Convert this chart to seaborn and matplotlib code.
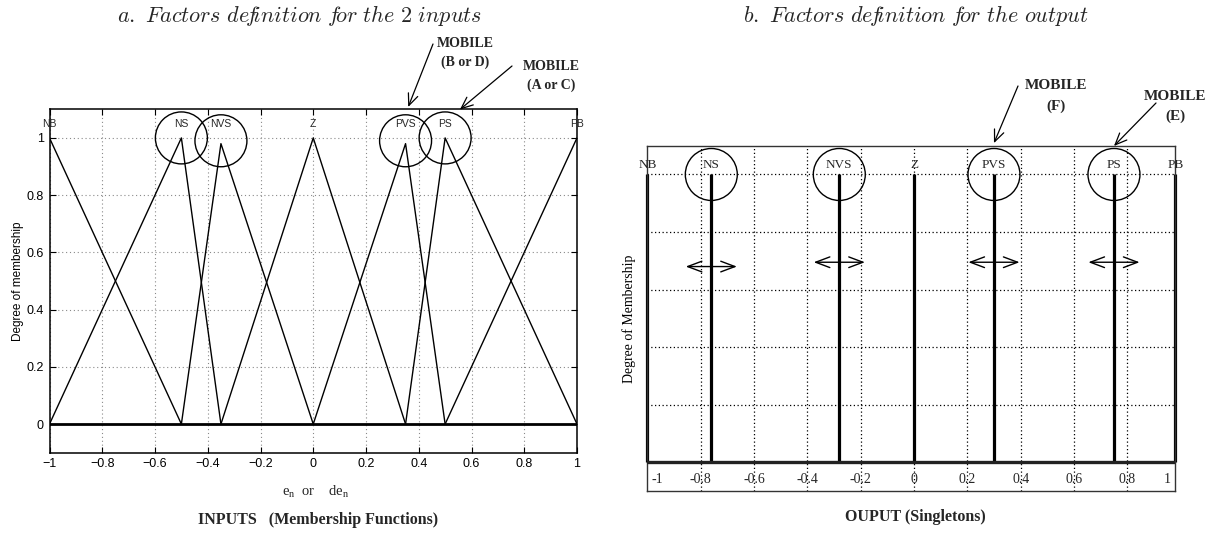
import numpy as np
import pandas as pd
import matplotlib
matplotlib.use("Agg")
import matplotlib.pyplot as plt
import seaborn as sns

# ---------------- data ----------------
# a. input membership functions (triangles)
mf_names = ["NB", "NS", "NVS", "Z", "PVS", "PS", "PB"]
nb_x, nb_y = [-1.0, -0.5], [1.0, 0.0]
ns_x, ns_y = [-1.0, -0.5, -0.35], [0.0, 1.0, 0.0]
nvs_x, nvs_y = [-0.5, -0.35, 0.0], [0.0, 0.98, 0.0]
z_x, z_y = [-0.35, 0.0, 0.35], [0.0, 1.0, 0.0]
pvs_x, pvs_y = [0.0, 0.35, 0.5], [0.0, 0.98, 0.0]
ps_x, ps_y = [0.35, 0.5, 1.0], [0.0, 1.0, 0.0]
pb_x, pb_y = [0.5, 1.0], [0.0, 1.0]
mf_label_x = [-1.0, -0.5, -0.35, 0.0, 0.35, 0.5, 1.0]
mobile_in = ["NS", "NVS", "PVS", "PS"]
mobile_in_x = [-0.5, -0.35, 0.35, 0.5]
mobile_in_y = [1.0, 0.99, 0.99, 1.0]
left_xticks = [-1, -0.8, -0.6, -0.4, -0.2, 0, 0.2, 0.4, 0.6, 0.8, 1]
left_xticklabels = ["\u22121", "\u22120.8", "\u22120.6", "\u22120.4", "\u22120.2", "0",
                    "0.2", "0.4", "0.6", "0.8", "1"]
left_yticks = [0, 0.2, 0.4, 0.6, 0.8, 1]
left_yticklabels = ["0", "0.2", "0.4", "0.6", "0.8", "1"]

# b. output singletons
out_names = ["NB", "NS", "NVS", "Z", "PVS", "PS", "PB"]
out_values = [-1.0, -0.76, -0.28, 0.0, 0.30, 0.75, 0.98]
out_height = [1.0, 1.0, 1.0, 1.0, 1.0, 1.0, 1.0]
mobile_out = ["NS", "NVS", "PVS", "PS"]
mobile_out_x = [-0.76, -0.28, 0.30, 0.75]
mobile_out_arrow_y = [0.68, 0.695, 0.695, 0.695]
right_ticks = [-1, -0.8, -0.6, -0.4, -0.2, 0, 0.2, 0.4, 0.6, 0.8, 1]
right_ticklabels = ["-1", "-0.8", "-0.6", "-0.4", "-0.2", "0", "0.2", "0.4", "0.6", "0.8", "1"]
right_grid_x = [-0.8, -0.6, -0.4, -0.2, 0, 0.2, 0.4, 0.6, 0.8]
right_grid_y = [0.2, 0.4, 0.6, 0.8, 1.0]

# ---------------- style ----------------
sns.set_theme(style="white")
plt.rcParams["font.family"] = ["Liberation Sans", "DejaVu Sans"]
plt.rcParams["axes.unicode_minus"] = True

W, H = 1216, 536
fig = plt.figure(figsize=(W / 100, H / 100), dpi=100)


def box(x0, y0, x1, y1):
    return [x0 / W, 1 - y1 / H, (x1 - x0) / W, (y1 - y0) / H]


axL = fig.add_axes(box(49.5, 109.3, 577, 452.7))
axR = fig.add_axes(box(647.3, 145.7, 1175.3, 491))

SERIF = ["Liberation Serif", "DejaVu Serif"]

# ---------------- left panel ----------------
mf_x = [nb_x, ns_x, nvs_x, z_x, pvs_x, ps_x, pb_x]
mf_y = [nb_y, ns_y, nvs_y, z_y, pvs_y, ps_y, pb_y]
rows = []
for name, xs, ys in zip(mf_names, mf_x, mf_y):
    for x, y in zip(xs, ys):
        rows.append({"mf": name, "x": x, "mu": y})
dfL = pd.DataFrame(rows)
sns.lineplot(data=dfL, x="x", y="mu", hue="mf", palette=["black"] * len(mf_names),
             estimator=None, sort=False, legend=False, lw=1.0, ax=axL)
axL.axhline(0, color="black", lw=2.0, zorder=3)

axL.set_xlim(-1, 1)
axL.set_ylim(-0.1, 1.1)
axL.set_xticks(left_xticks)
axL.set_xticklabels(left_xticklabels, fontsize=9)
axL.set_yticks(left_yticks)
axL.set_yticklabels(left_yticklabels, fontsize=9)
axL.tick_params(direction="in", length=4, width=0.8, top=True, right=True,
                bottom=True, left=True, pad=4, colors="black")
axL.grid(True, color="#8a8a8a", linestyle=(0, (1, 2.5)), lw=0.8)
axL.set_xlabel("")
axL.set_ylabel("Degree of membership", fontsize=8.5, labelpad=2, color="black")
for s in axL.spines.values():
    s.set_color("black")
    s.set_linewidth(1.1)

for name, xpos in zip(mf_names, mf_label_x):
    axL.text(xpos, 1.038, name, ha="center", va="baseline", fontsize=7.5)

axL.scatter(mobile_in_x, mobile_in_y, s=1400, facecolors="none",
            edgecolors="black", linewidths=1.0, clip_on=False, zorder=4)

# MOBILE annotations (left)
axL.annotate("", xy=(0.36, 1.108), xycoords="data",
             xytext=(433, H - 44), textcoords="figure pixels",
             arrowprops=dict(arrowstyle="->, head_length=0.7, head_width=0.3",
                             color="black", lw=0.9, shrinkA=0, shrinkB=0),
             annotation_clip=False)
axL.annotate("", xy=(0.556, 1.099), xycoords="data",
             xytext=(512, H - 66), textcoords="figure pixels",
             arrowprops=dict(arrowstyle="->, head_length=0.7, head_width=0.3",
                             color="black", lw=0.9, shrinkA=0, shrinkB=0),
             annotation_clip=False)
fig.text(465 / W, 1 - 53 / H, "MOBILE\n(B or D)", ha="center", va="center",
         multialignment="center", family=SERIF, fontweight="bold", fontsize=10,
         linespacing=1.55)
fig.text(551 / W, 1 - 76 / H, "MOBILE\n(A or C)", ha="center", va="center",
         multialignment="center", family=SERIF, fontweight="bold", fontsize=10,
         linespacing=1.45)

# bottom texts (left)
fig.text(316 / W, 1 - 492 / H,
         r"e$_{\mathregular{n}}$  or    de$_{\mathregular{n}}$",
         ha="center", va="center", family=SERIF, fontsize=10.5)
fig.text(318 / W, 1 - 520 / H, "INPUTS   (Membership Functions)",
         ha="center", va="center", family=SERIF, fontweight="bold", fontsize=11.5)

# ---------------- right panel ----------------
rows = []
for name, v, h in zip(out_names, out_values, out_height):
    rows.append({"mf": name, "x": v, "mu": 0.0})
    rows.append({"mf": name, "x": v, "mu": h})
dfR = pd.DataFrame(rows)
sns.lineplot(data=dfR, x="x", y="mu", hue="mf", palette=["black"] * len(out_names),
             estimator=None, sort=False, legend=False, lw=2.3, ax=axR)
for ln in axR.lines:
    ln.set_clip_on(False)
    ln.set_solid_capstyle("butt")

axR.set_xlim(-1.0, 0.98)
axR.set_ylim(-0.1, 1.1)
axR.set_xticks(right_grid_x)
axR.set_yticks(right_grid_y)
axR.tick_params(length=0, labelbottom=False, labelleft=False)
axR.grid(True, color="black", linestyle=(0, (1, 2)), lw=0.9)
axR.axhline(0, color="#222222", lw=2.4, zorder=3)
axR.set_xlabel("")
axR.set_ylabel("Degree of Membership", family=SERIF, fontsize=10, labelpad=8,
               color="black")
for s in axR.spines.values():
    s.set_color("#333333")
    s.set_linewidth(1.0)

xmin, xmax = axR.get_xlim()
for t, lab in zip(right_ticks, right_ticklabels):
    if t <= xmin:
        axR.annotate(lab, xy=(xmin, -0.072), xytext=(3, 0), textcoords="offset points",
                     ha="left", va="baseline", family=SERIF, fontsize=10)
    elif t >= xmax:
        axR.annotate(lab, xy=(xmax, -0.072), xytext=(-3, 0), textcoords="offset points",
                     ha="right", va="baseline", family=SERIF, fontsize=10)
    else:
        axR.text(t, -0.072, lab, ha="center", va="baseline", family=SERIF, fontsize=10)

for name, v in zip(out_names, out_values):
    axR.text(v, 1.021, name, ha="center", va="baseline", family=SERIF, fontsize=9.5,
             clip_on=False)

axR.scatter(mobile_out_x, [1.0] * len(mobile_out_x), s=1400, facecolors="none",
            edgecolors="black", linewidths=1.0, clip_on=False, zorder=4)
for xv, yv in zip(mobile_out_x, mobile_out_arrow_y):
    axR.annotate("", xy=(xv - 0.096, yv), xytext=(xv + 0.096, yv),
                 arrowprops=dict(arrowstyle="<->, head_length=0.85, head_width=0.32",
                                 color="black", lw=1.0, shrinkA=0, shrinkB=0))

axR.annotate("", xy=(0.30, 1.109), xycoords="data",
             xytext=(1018, H - 86), textcoords="figure pixels",
             arrowprops=dict(arrowstyle="->, head_length=0.7, head_width=0.3",
                             color="black", lw=0.9, shrinkA=0, shrinkB=0),
             annotation_clip=False)
axR.annotate("", xy=(0.75, 1.099), xycoords="data",
             xytext=(1156, H - 103), textcoords="figure pixels",
             arrowprops=dict(arrowstyle="->, head_length=0.7, head_width=0.3",
                             color="black", lw=0.9, shrinkA=0, shrinkB=0),
             annotation_clip=False)
fig.text(1056 / W, 1 - 96 / H, "MOBILE\n(F)", ha="center", va="center",
         multialignment="center", family=SERIF, fontweight="bold", fontsize=11,
         linespacing=1.7)
fig.text(1175 / W, 1 - 106.5 / H, "MOBILE\n(E)", ha="center", va="center",
         multialignment="center", family=SERIF, fontweight="bold", fontsize=11,
         linespacing=1.6)

fig.text(915.5 / W, 1 - 517 / H, "OUPUT (Singletons)", ha="center", va="center",
         family=SERIF, fontweight="bold", fontsize=11.5)

# ---------------- titles ----------------
fig.text(300 / W, 1 - 15 / H,
         r"$\mathit{a}.\ \mathit{Factors\ de\!f\!inition\ f\!or\ the}\ 2\ \mathit{inputs}$",
         ha="center", va="center", fontsize=16, math_fontfamily="cm")
fig.text(916 / W, 1 - 16 / H,
         r"$\mathit{b}.\ \mathit{Factors\ de\!f\!inition\ f\!or\ the\ output}$",
         ha="center", va="center", fontsize=16, math_fontfamily="cm")

fig.savefig("out.png", dpi=100, facecolor="white")
